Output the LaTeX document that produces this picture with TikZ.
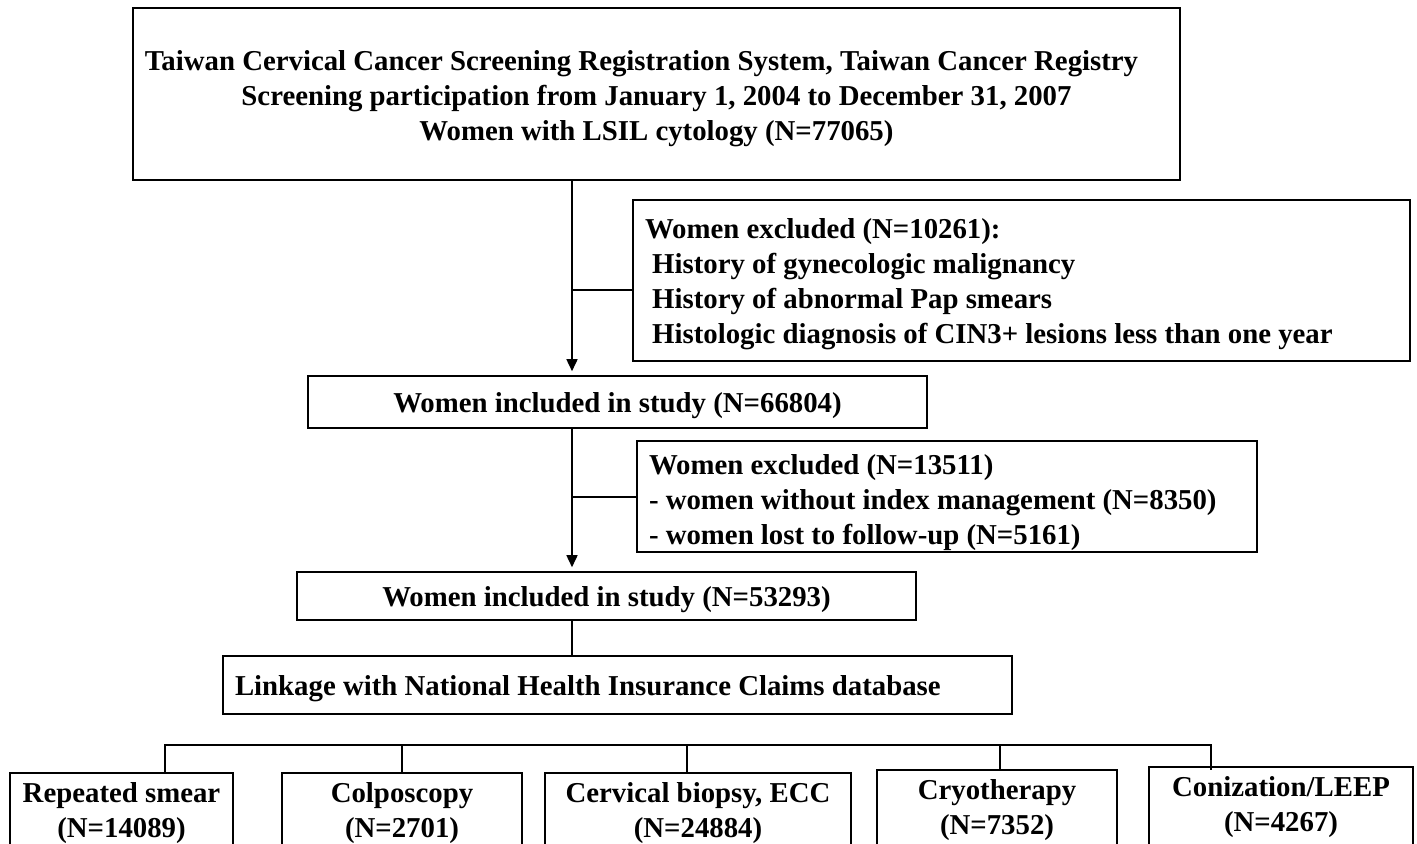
\documentclass[tikz,border=0pt]{standalone}
\usepackage{fontspec}
\setmainfont{Liberation Serif}
\usetikzlibrary{arrows.meta,positioning}

\tikzset{
    flowbox/.style={draw, line width=0.8pt, inner sep=0pt,
        font=\fontsize{14.4}{17.5}\selectfont\bfseries},
    onebox/.style={flowbox, text height=11.5pt, text depth=0.7pt},
    leftbox/.style={flowbox, align=flush left, inner xsep=6pt},
    treatbox/.style={flowbox, anchor=north, align=flush center, inner ysep=5pt},
    link/.style={line width=0.8pt},
    flowarrow/.style={link, -{Triangle[length=6pt,width=5.5pt]}, shorten >=2pt}
}
\newcommand{\liftline}[1]{\rule{0pt}{#1}}
\newcommand{\deepline}{\rule[-20pt]{0pt}{0pt}}

\begin{document}
\begin{tikzpicture}[x=0.5pt, y=-0.5pt]
    \clip (0,0) rectangle (1417,843);
    \fill[white] (0,0) rectangle (1417,843);

    % main column
    \node[flowbox, minimum width=523.5pt, minimum height=86pt, align=center] (registry) at (656.5, 94)
        {\liftline{15pt}Taiwan Cervical Cancer Screening Registration System, Taiwan Cancer Registry\hspace*{15pt}\\
         Screening participation from January 1, 2004 to December 31, 2007\\
         Women with LSIL cytology (N=77065)};
    \node[onebox, minimum width=309.5pt, minimum height=26pt] (incl1) at (617.5, 402)
        {Women included in study (N=66804)};
    \node[onebox, minimum width=309.5pt, minimum height=24pt] (incl2) at (606.5, 596)
        {Women included in study (N=53293)};
    \node[onebox, align=flush left, inner xsep=6pt, text width=382.5pt, minimum height=29pt] (linkage) at (617.5, 685)
        {Linkage with National Health Insurance Claims database};

    % exclusions
    \node[leftbox, text width=376.5pt, minimum height=80.5pt] (excl1) at (1021.5, 280.5)
        {\liftline{14pt}Women excluded (N=10261):\\
         \ History of gynecologic malignancy\\
         \ History of abnormal Pap smears\\
         \ Histologic diagnosis of CIN3+ lesions less than one year};
    \node[leftbox, text width=298pt, minimum height=55.5pt] (excl2) at (947, 496.5)
        {\liftline{16pt}Women excluded (N=13511)\\
         - women without index management (N=8350)\\
         - women lost to follow-up (N=5161)};

    % management
    \node[treatbox, text width=111.5pt] (smear) at (121.5, 772) {Repeated smear\\(N=14089)\deepline};
    \node[treatbox, text width=120pt] (colpo) at (402, 772) {Colposcopy\\(N=2701)\deepline};
    \node[treatbox, text width=153pt] (biopsy) at (698, 772) {Cervical biopsy, ECC\\(N=24884)\deepline};
    \node[treatbox, text width=120pt] (cryo) at (997, 769) {Cryotherapy\\(N=7352)\deepline};
    \node[treatbox, text width=132pt] (leep) at (1281, 766) {Conization/LEEP\\(N=4267)\deepline};

    \coordinate (spine) at (572, 0);
    \coordinate (j1) at (572, 290);
    \coordinate (j2) at (572, 497);
    \coordinate (d1) at (165, 745);
    \coordinate (d2) at (402, 745);
    \coordinate (d3) at (687, 745);
    \coordinate (d4) at (1000, 745);
    \coordinate (d5) at (1211, 745);

    \draw[flowarrow] (registry.south -| spine) -- (incl1.north -| spine);
    \draw[flowarrow] (incl1.south -| spine) -- (incl2.north -| spine);
    \draw[link] (excl1.west |- j1) -- (j1);
    \draw[link] (excl2.west |- j2) -- (j2);
    \draw[link] (incl2.south -| spine) -- (linkage.north -| spine);

    \draw[link] (smear.north -| d1) -- (d1) -- (d5) -- ([yshift=-2pt]leep.north -| d5);
    \draw[link]
        (d2) edge (colpo.north -| d2)
        (d3) edge (biopsy.north -| d3)
        (d4) edge (cryo.north -| d4);
\end{tikzpicture}
\end{document}
